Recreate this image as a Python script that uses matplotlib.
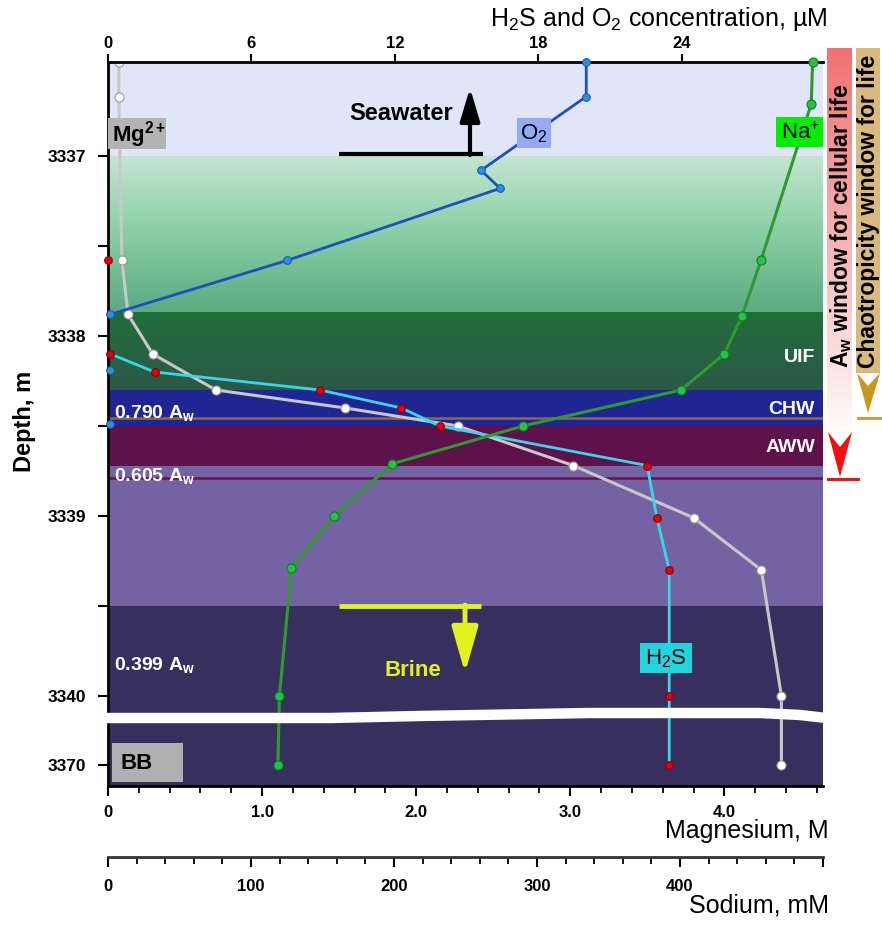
import matplotlib
matplotlib.use("Agg")
import matplotlib.pyplot as plt
import numpy as np
from matplotlib.colors import LinearSegmentedColormap
from matplotlib.patches import Polygon, Rectangle
from matplotlib.ticker import MultipleLocator, FixedLocator

plt.rcParams["font.family"] = ["Liberation Sans", "DejaVu Sans"]
plt.rcParams["mathtext.fontset"] = "custom"
plt.rcParams["mathtext.rm"] = "Liberation Sans"
plt.rcParams["mathtext.it"] = "Liberation Sans:italic"
plt.rcParams["mathtext.bf"] = "Liberation Sans:bold"

# -------------------------
# DATA (depth in m, 3370 m sample sits below the axis break)
# -------------------------
o2_depth = [3336.48, 3336.67, 3337.08, 3337.18, 3337.58, 3337.88, 3338.19, 3338.49]
o2_um = [20.0, 20.0, 15.6, 16.4, 7.5, 0.1, 0.1, 0.1]
o2_joined = 6          # first n samples are joined by the profile line

h2s_depth = [3337.58, 3338.10, 3338.20, 3338.30, 3338.40, 3338.50,
             3338.72, 3339.01, 3339.30, 3340.0, 3370]
h2s_um = [0.0, 0.1, 1.95, 8.86, 12.27, 13.87, 22.55, 22.95, 23.47, 23.47, 23.47]
h2s_first_joined = 1   # profile line starts at this sample

mg_depth = [3336.48, 3336.67, 3337.58, 3337.88, 3338.10, 3338.30, 3338.40,
            3338.50, 3338.72, 3339.01, 3339.30, 3340.0, 3370]
mg_m = [0.07, 0.07, 0.09, 0.13, 0.29, 0.70, 1.54, 2.27, 3.02, 3.80, 4.24, 4.37, 4.37]

na_depth = [3336.48, 3336.71, 3337.58, 3337.89, 3338.10, 3338.30, 3338.50,
            3338.71, 3339.0, 3339.29, 3340.0, 3370]
na_mm = [492.7, 491.8, 456.6, 443.3, 431.0, 400.7, 290.3, 198.8, 158.1, 128.3, 119.9, 118.8]

depth_ticks = [3337, 3338, 3339, 3340, 3370]
depth_tick_labels = ["3337", "3338", "3339", "3340", "3370"]

# water layers: (top, bottom, colour)
layers = [
    (3336.40, 3337.00, "#e0e5f8"),
    (3338.30, 3338.50, "#1f2592"),
    (3338.50, 3338.72, "#5f1149"),
    (3338.72, 3339.50, "#7463a3"),
    (3339.50, 3340.60, "#37305f"),
]
aw_lines = [(3338.456, "#8a6a55"), (3338.79, "#6a1050")]

BREAK_Y = 3340.383
YLIM = (3340.50, 3336.478)


def dplot(depths):
    d = np.asarray(depths, dtype=float)
    return np.where(d > 3350, BREAK_Y + (d - 3370), d)


W, H = 882, 925
fig = plt.figure(figsize=(W / 100, H / 100), dpi=100)
L, R, T, B = 108, 823, 62, 786
ax = fig.add_axes([L / W, 1 - B / H, (R - L) / W, (B - T) / H])

# -------------------------
# BACKGROUND LAYERS
# -------------------------
MGMAX = 4.64
for top, bot, col in layers:
    ax.axhspan(top, bot, color=col, lw=0, zorder=0)
grad = np.linspace(0, 1, 256).reshape(-1, 1)
green_cmap = LinearSegmentedColormap.from_list("g", ["#c4e6d0", "#88cda4", "#5ca982"])
ax.imshow(grad, cmap=green_cmap, extent=[0, MGMAX, 3337.872, 3337.0],
          aspect="auto", interpolation="bilinear", zorder=0)
dgreen_cmap = LinearSegmentedColormap.from_list("dg", ["#216f3b", "#2b5847"])
ax.imshow(grad, cmap=dgreen_cmap, extent=[0, MGMAX, 3338.30, 3337.872],
          aspect="auto", interpolation="bilinear", zorder=0)
for y, col in aw_lines:
    ax.axhline(y, color=col, lw=1.8, zorder=0.5)

# -------------------------
# MAGNESIUM (bottom axis)
# -------------------------
ax.plot(mg_m, dplot(mg_depth), color="#c8c8c8", lw=2.2, marker="o", ms=6.5,
        mfc="white", mec="#9a9a9a", mew=0.8, zorder=3)
ax.set_xlim(0, MGMAX)
ax.set_ylim(*YLIM)
ax.xaxis.set_major_locator(FixedLocator([0, 1, 2, 3, 4]))
ax.set_xticklabels(["0", "1.0", "2.0", "3.0", "4.0"])
ax.xaxis.set_minor_locator(MultipleLocator(0.2))
ax.set_yticks(dplot(depth_ticks))
ax.set_yticklabels(depth_tick_labels)
ax.yaxis.set_minor_locator(FixedLocator([3337.5, 3338.5, 3339.5]))
ax.tick_params(axis="x", which="major", direction="out", length=7, width=1.5,
               labelsize=12, pad=7)
ax.tick_params(axis="x", which="minor", direction="out", length=5, width=1.3)
ax.tick_params(axis="y", which="major", direction="out", length=7, width=1.5,
               labelsize=12.5, pad=9)
ax.tick_params(axis="y", which="minor", direction="out", length=7, width=1.5)
for lab in ax.get_xticklabels() + ax.get_yticklabels():
    lab.set_fontweight("bold")
for s in ("top", "right"):
    ax.spines[s].set_visible(False)
ax.spines["left"].set_linewidth(2)
ax.spines["bottom"].set_linewidth(2)

# -------------------------
# H2S AND O2 (top axis)
# -------------------------
ax_top = ax.twiny()
o2_y = dplot(o2_depth)
ax_top.plot(o2_um[:o2_joined], o2_y[:o2_joined], color="#1c4fc4", lw=2, zorder=3, clip_on=False)
ax_top.plot(o2_um, o2_y, ls="none", marker="o", ms=5.5,
            mfc="#2b8fdc", mec="#1b5fa5", mew=0.8, zorder=4, clip_on=False)
h2s_y = dplot(h2s_depth)
ax_top.plot(h2s_um[h2s_first_joined:], h2s_y[h2s_first_joined:], color="#38d6e8", lw=2,
            zorder=3, clip_on=False)
ax_top.plot(h2s_um, h2s_y, ls="none", marker="o", ms=5.5,
            mfc="#e00010", mec="#8a0000", mew=0.8, zorder=4, clip_on=False)
ax_top.set_xlim(0, 29.9)
ax_top.set_ylim(*YLIM)
ax_top.set_xticks([0, 6, 12, 18, 24])
ax_top.tick_params(axis="x", direction="out", length=6, width=1.5, labelsize=12, pad=2)
for lab in ax_top.get_xticklabels():
    lab.set_fontweight("bold")
for s in ("bottom", "right", "left"):
    ax_top.spines[s].set_visible(False)
ax_top.spines["top"].set_linewidth(2)

# -------------------------
# SODIUM (second bottom axis)
# -------------------------
ax_na = ax.twiny()
ax_na.xaxis.set_ticks_position("bottom")
ax_na.xaxis.set_label_position("bottom")
ax_na.spines["bottom"].set_position(("outward", 51))
for s in ("top", "right", "left"):
    ax_na.spines[s].set_visible(False)
ax_na.spines["bottom"].set_linewidth(2)
ax_na.spines["bottom"].set_color("#333333")
ax_na.plot(na_mm, dplot(na_depth), color="#2e9b2e", lw=2.2, marker="o", ms=6.5,
           mfc="#22c444", mec="#17792a", mew=0.8, zorder=3, clip_on=False)
ax_na.set_xlim(0, 500)
ax_na.set_ylim(*YLIM)
ax_na.xaxis.set_major_locator(FixedLocator([0, 100, 200, 300, 400, 500]))
ax_na.set_xticklabels(["0", "100", "200", "300", "400", ""])
ax_na.xaxis.set_minor_locator(MultipleLocator(20))
ax_na.tick_params(axis="x", which="major", direction="out", length=7, width=1.5,
                  labelsize=12, pad=9)
ax_na.tick_params(axis="x", which="minor", direction="out", length=5, width=1.3)
for lab in ax_na.get_xticklabels():
    lab.set_fontweight("bold")

# -------------------------
# OVERLAY (pixel coordinates) for labels, arrows, side bars
# -------------------------
ov = fig.add_axes([0, 0, 1, 1])
ov.set_xlim(0, W)
ov.set_ylim(H, 0)
ov.axis("off")
ov.set_zorder(10)
ov.patch.set_alpha(0)

# axis titles
ov.text(827, 19, "H$_2$S and O$_2$ concentration, µM", fontsize=18, ha="right", va="center")
ov.text(829, 831, "Magnesium, M", fontsize=18, ha="right", va="center")
ov.text(829, 905, "Sodium, mM", fontsize=18, ha="right", va="center")
ov.text(24, 421, "Depth, m", fontsize=17, fontweight="bold", rotation=90,
        ha="center", va="center")

# axis break
brk_x = [100, 330, 420, 590, 760, 800, 826]
brk_y = [718, 718, 716, 713, 713, 715, 718]
ov.plot(brk_x, brk_y, color="white", lw=7.5, solid_capstyle="butt")

# series labels
boxes = [
    (108, 118, 58, 31, "#b3b3b3", "Mg$^{\\mathbf{2+}}$", 112, "left", "bold"),
    (517, 118, 34, 30, "#94aaf4", "O$_2$", 534, "center", "normal"),
    (776, 117, 47, 30, "#00ee00", "Na$^{+}$", 800, "center", "normal"),
    (640, 643, 52, 30, "#20d4e0", "H$_2$S", 666, "center", "normal"),
    (112, 743, 71, 39, "#b0b0b0", "BB", 120, "left", "bold"),
]
for x0, y0, bw, bh, fc, txt, tx, ha, fw in boxes:
    ov.add_patch(Rectangle((x0, y0), bw, bh, fc=fc, ec="none", zorder=4))
    ov.text(tx, y0 + bh / 2 + 1, txt, fontsize=16, fontweight=fw, ha=ha, va="center", zorder=5)

# layer names
for txt, y in (("UIF", 357), ("CHW", 410), ("AWW", 447)):
    ov.text(815, y, txt, color="white", fontsize=14, fontweight="bold", ha="right", va="center")
for txt, y in (("0.790", 413), ("0.605", 476), ("0.399", 665)):
    ov.text(114, y, txt + " A$_\\mathbf{w}$", color="white", fontsize=14,
            fontweight="bold", ha="left", va="center")

# seawater / brine markers
ov.plot([339, 483], [154, 154], color="black", lw=3, solid_capstyle="butt")
ov.annotate("", xy=(470, 88), xytext=(470, 155),
            arrowprops=dict(arrowstyle="-|>,head_length=1.0,head_width=0.3",
                            color="black", lw=3, mutation_scale=20, shrinkA=0, shrinkB=0))
ov.text(401, 113, "Seawater", fontsize=17, fontweight="bold", ha="center", va="center")
ov.plot([339, 481], [606, 606], color="#e2f21e", lw=3.5, solid_capstyle="butt")
ov.annotate("", xy=(465, 673), xytext=(465, 605),
            arrowprops=dict(arrowstyle="-|>,head_length=1.4,head_width=0.4",
                            color="#e2f21e", lw=3.5, mutation_scale=20, shrinkA=0, shrinkB=0))
ov.text(413, 670, "Brine", fontsize=16, fontweight="bold", color="#e2f21e",
        ha="center", va="center")

# side bars: water activity and chaotropicity windows
red_cmap = LinearSegmentedColormap.from_list("r", ["#f07272", "#f6b4b4", "#ffffff"])
ov.imshow(np.linspace(0, 1, 256).reshape(-1, 1), cmap=red_cmap,
          extent=[827, 852, 440, 48], aspect="auto", interpolation="bilinear", zorder=1)
ov.add_patch(Polygon([(828, 432), (840, 447), (852, 432), (840, 477)],
                     closed=True, fc="#f41010", ec="none", zorder=2))
ov.plot([828, 858], [479, 479], color="#e01818", lw=2.2)
ov.text(841, 226, "A$_\\mathbf{w}$ window for cellular life", rotation=90, fontsize=16.5,
        fontweight="bold", ha="center", va="center", zorder=3)

ov.add_patch(Rectangle((856, 48), 24, 325, fc="#d9ba7c", ec="none", zorder=1))
ov.add_patch(Polygon([(857, 373), (868, 386), (880, 373), (868, 413)],
                     closed=True, fc="#c8961a", ec="none", zorder=2))
ov.plot([858, 882], [418, 418], color="#c9a040", lw=2.2)
ov.text(869, 211, "Chaotropicity window for life", rotation=90, fontsize=16.5,
        fontweight="bold", ha="center", va="center", zorder=3)

fig.savefig("out.png", dpi=100)
